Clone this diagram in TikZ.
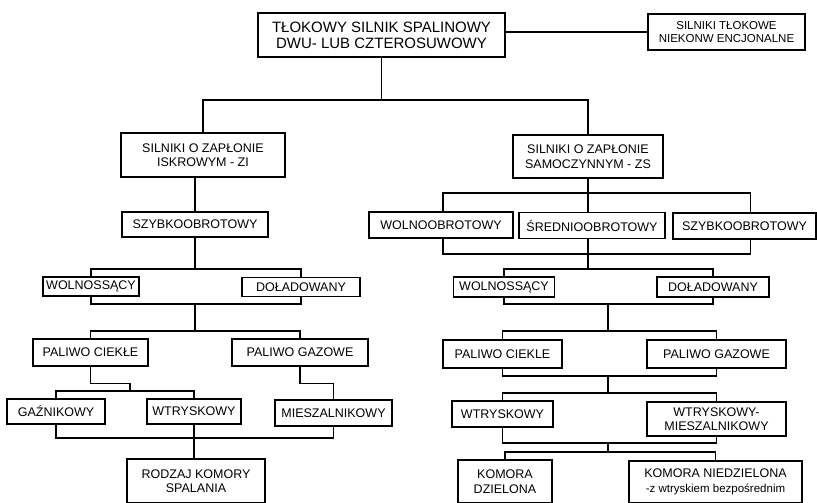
\documentclass[tikz,border=0pt]{standalone}
\usepackage{fontspec}
\setmainfont{Liberation Sans}
\usetikzlibrary{backgrounds}

\tikzset{
  box/.style={draw, fill=white, line width=1.3pt, align=center, inner sep=1pt,
    font=\fontsize{12.5}{14.5}\selectfont},
  link/.style={line width=1.3pt}
}

\begin{document}
\begin{tikzpicture}[x=1pt, y=-1pt]
  \useasboundingbox (0,0) rectangle (817,503);

  % ---- top level ----
  \node[box, minimum width=247, minimum height=44, font=\fontsize{15}{16}\selectfont] (top) at (381.5,35)
    {TŁOKOWY SILNIK SPALINOWY\\DWU- LUB CZTEROSUWOWY};
  \node[box, minimum width=157, minimum height=36, font=\fontsize{11.5}{13}\selectfont] (unconv) at (726.5,32)
    {SILNIKI TŁOKOWE\\NIEKONW ENCJONALNE};

  % ---- ZI branch ----
  \node[box, minimum width=164, minimum height=44] (zi) at (203,155) {SILNIKI O ZAPŁONIE\\ISKROWYM - ZI};
  \node[box, minimum width=146, minimum height=25] (szybZI) at (195,224.5) {SZYBKOOBROTOWY};
  \node[box, minimum width=96, minimum height=19] (wolnossZI) at (91,286.5) {WOLNOSSĄCY};
  \node[box, minimum width=118, minimum height=19] (doladZI) at (301,287) {DOŁADOWANY};
  \node[box, minimum width=115, minimum height=27] (cieklZI) at (90.5,352.5) {PALIWO CIEKŁE};
  \node[box, minimum width=136, minimum height=27] (gazZI) at (300,352.5) {PALIWO GAZOWE};
  \node[box, minimum width=98, minimum height=25] (gaznik) at (56,411.5) {GAŹNIKOWY};
  \node[box, minimum width=94, minimum height=25] (wtrZI) at (194,411.5) {WTRYSKOWY};
  \node[box, minimum width=117, minimum height=26] (miesz) at (333.5,413) {MIESZALNIKOWY};
  \node[box, minimum width=138, minimum height=44] (rodzaj) at (196,481) {RODZAJ KOMORY\\SPALANIA};

  % ---- ZS branch ----
  \node[box, minimum width=150, minimum height=43] (zs) at (588,156.5) {SILNIKI O ZAPŁONIE\\SAMOCZYNNYM - ZS};
  \node[box, minimum width=144, minimum height=26] (wolnZS) at (441,225) {WOLNOOBROTOWY};
  \node[box, minimum width=146, minimum height=26] (sredZS) at (592,225.5) {ŚREDNIOOBROTOWY};
  \node[box, minimum width=143, minimum height=26] (szybZS) at (744.5,226) {SZYBKOOBROTOWY};
  \node[box, minimum width=101, minimum height=20] (wolnossZS) at (504,287) {WOLNOSSĄCY};
  \node[box, minimum width=112, minimum height=20] (doladZS) at (713,287) {DOŁADOWANY};
  \node[box, minimum width=119, minimum height=28] (cieklZS) at (502.5,354) {PALIWO CIEKLE};
  \node[box, minimum width=139, minimum height=28] (gazZS) at (716.5,354) {PALIWO GAZOWE};
  \node[box, minimum width=101, minimum height=26] (wtrZS) at (502.5,414) {WTRYSKOWY};
  \node[box, minimum width=139, minimum height=34] (wtrmZS) at (716.5,419) {WTRYSKOWY-\\MIESZALNIKOWY};
  \node[box, minimum width=94, minimum height=43] (dziel) at (505,481.5) {KOMORA\\DZIELONA};
  \node[box, minimum width=173, minimum height=42] (niedziel) at (715.5,482)
    {KOMORA NIEDZIELONA\\{\fontsize{11.5}{13}\selectfont -z wtryskiem bezpośrednim}};

  % bus levels
  \coordinate (busTop) at (0,100);
  \coordinate (colZS) at (608,0);

  \begin{scope}[on background layer]
    \draw[link] (top.east |- unconv.west) -- (unconv.west);
    \draw[link] (top.south) -- (top.south |- busTop);
    \draw[link] (zi.north) |- (zs.north |- busTop) -- (zs.north);

    % ZI side
    \draw[link] (zi.south -| szybZI) -- (szybZI |- 0,269);
    \draw[link] (wolnossZI |- 0,269) rectangle (doladZI |- 0,304);
    \draw[link] (szybZI |- 0,304) -- (szybZI |- 0,331);
    \draw[link] (cieklZI.north) |- (gazZI.north |- 0,331) -- (gazZI.north);
    \draw[link] (cieklZI.south) -- ++(0,17) -| (130,391);
    \draw[link] (gaznik.north) |- (wtrZI.north |- 0,391) -- (wtrZI.north);
    \draw[link] (gazZI.south) -- ++(0,17) -| (miesz.north);
    \draw[link] (gaznik.south) |- (miesz.south |- 0,438) -- (miesz.south);
    \draw[link] (wtrZI.south) -- (wtrZI.south |- rodzaj.north);

    % ZS side
    \draw[link] (zs.south) -- (zs.south |- 0,269);
    \draw[link] ([xshift=2]wolnZS.center |- 0,193) rectangle ([xshift=6]szybZS.center |- 0,254);
    \draw[link] (wolnossZS |- 0,269) rectangle (doladZS |- 0,304);
    \draw[link] (colZS |- 0,304) -- (colZS |- 0,331);
    \draw[link] (cieklZS |- 0,331) rectangle (gazZS |- 0,376);
    \draw[link] (colZS |- 0,376) -- (colZS |- 0,393);
    \draw[link] (wtrZS |- 0,393) rectangle (wtrmZS |- 0,443);
    \draw[link] (colZS |- 0,443) -- (colZS |- 0,452);
    \draw[link] (dziel.north) |- (niedziel.north |- 0,452) -- (niedziel.north);
  \end{scope}
\end{tikzpicture}
\end{document}
